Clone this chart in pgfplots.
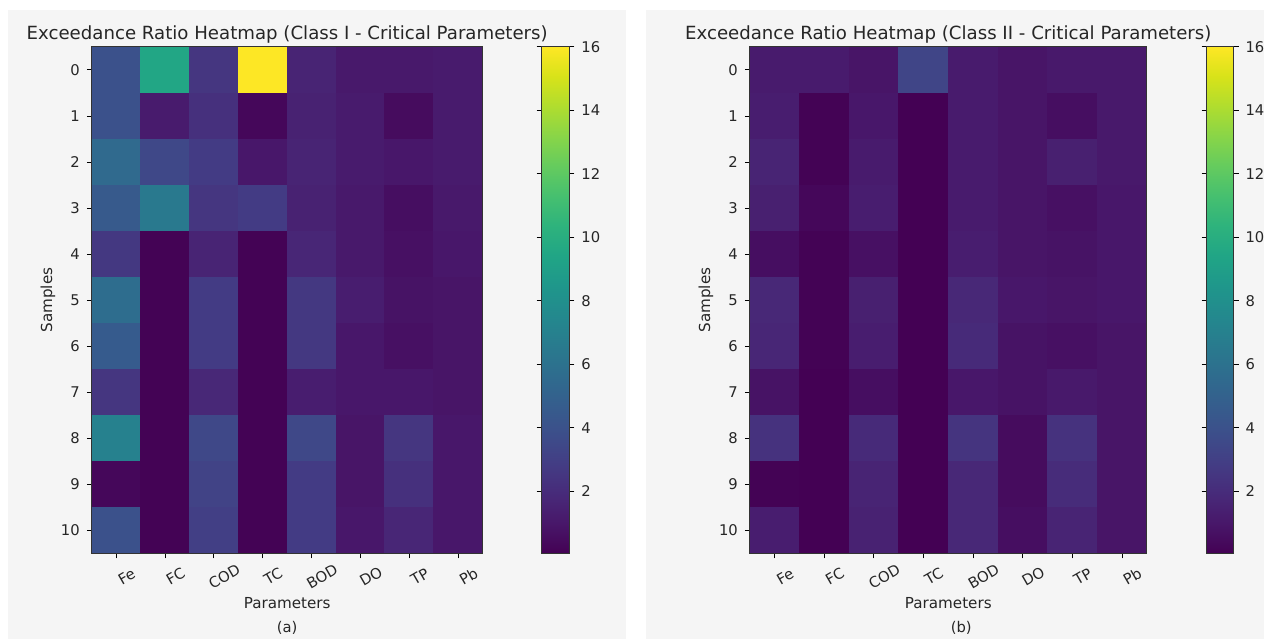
\documentclass[border=0pt]{standalone}
\usepackage{pgfplots}
\pgfplotsset{compat=1.18}
\usepackage{pgfplotstable}
\usepackage{fontspec}
\setmainfont{DejaVu Sans}

% exceedance ratios, rows = samples 0..10, cols = Fe FC COD TC BOD DO TP Pb
\pgfplotstableread[row sep=\\]{
x y c \\
0 0 4.0 \\ 1 0 9.5 \\ 2 0 2.5 \\ 3 0 16.0 \\ 4 0 1.6 \\ 5 0 1.1 \\ 6 0 1.1 \\ 7 0 1.2 \\
0 1 4.0 \\ 1 1 1.2 \\ 2 1 2.2 \\ 3 1 0.3 \\ 4 1 1.5 \\ 5 1 1.2 \\ 6 1 0.5 \\ 7 1 1.2 \\
0 2 5.5 \\ 1 2 3.5 \\ 2 2 2.8 \\ 3 2 1.0 \\ 4 2 1.6 \\ 5 2 1.2 \\ 6 2 1.0 \\ 7 2 1.2 \\
0 3 4.5 \\ 1 3 6.5 \\ 2 3 2.5 \\ 3 3 2.8 \\ 4 3 1.5 \\ 5 3 1.1 \\ 6 3 0.6 \\ 7 3 1.1 \\
0 4 2.6 \\ 1 4 0.1 \\ 2 4 1.6 \\ 3 4 0.1 \\ 4 4 1.7 \\ 5 4 1.1 \\ 6 4 0.7 \\ 7 4 1.0 \\
0 5 5.7 \\ 1 5 0.1 \\ 2 5 2.8 \\ 3 5 0.1 \\ 4 5 2.6 \\ 5 5 1.3 \\ 6 5 0.8 \\ 7 5 0.9 \\
0 6 4.6 \\ 1 6 0.1 \\ 2 6 2.8 \\ 3 6 0.1 \\ 4 6 2.6 \\ 5 6 1.0 \\ 6 6 0.7 \\ 7 6 0.9 \\
0 7 2.5 \\ 1 7 0.1 \\ 2 7 1.8 \\ 3 7 0.1 \\ 4 7 1.3 \\ 5 7 1.0 \\ 6 7 1.0 \\ 7 7 0.9 \\
0 8 7.0 \\ 1 8 0.1 \\ 2 8 3.5 \\ 3 8 0.1 \\ 4 8 3.5 \\ 5 8 0.9 \\ 6 8 2.5 \\ 7 8 1.0 \\
0 9 0.3 \\ 1 9 0.1 \\ 2 9 3.2 \\ 3 9 0.1 \\ 4 9 2.8 \\ 5 9 0.9 \\ 6 9 2.2 \\ 7 9 1.0 \\
0 10 4.0 \\ 1 10 0.1 \\ 2 10 3.0 \\ 3 10 0.1 \\ 4 10 2.8 \\ 5 10 1.0 \\ 6 10 1.7 \\ 7 10 1.0 \\
}\classone

\pgfplotstableread[row sep=\\]{
x y c \\
0 0 1.2 \\ 1 0 1.2 \\ 2 0 0.9 \\ 3 0 3.3 \\ 4 0 1.2 \\ 5 0 0.9 \\ 6 0 1.1 \\ 7 0 1.1 \\
0 1 1.3 \\ 1 1 0.1 \\ 2 1 1.0 \\ 3 1 0.05 \\ 4 1 1.2 \\ 5 1 0.9 \\ 6 1 0.6 \\ 7 1 1.1 \\
0 2 1.6 \\ 1 2 0.1 \\ 2 2 1.2 \\ 3 2 0.05 \\ 4 2 1.2 \\ 5 2 0.9 \\ 6 2 1.4 \\ 7 2 1.1 \\
0 3 1.4 \\ 1 3 0.3 \\ 2 3 1.3 \\ 3 3 0.05 \\ 4 3 1.2 \\ 5 3 0.9 \\ 6 3 0.7 \\ 7 3 1.0 \\
0 4 0.6 \\ 1 4 0.1 \\ 2 4 0.7 \\ 3 4 0.05 \\ 4 4 1.3 \\ 5 4 0.9 \\ 6 4 0.8 \\ 7 4 1.0 \\
0 5 1.8 \\ 1 5 0.1 \\ 2 5 1.4 \\ 3 5 0.05 \\ 4 5 1.8 \\ 5 5 1.0 \\ 6 5 0.9 \\ 7 5 1.0 \\
0 6 1.7 \\ 1 6 0.1 \\ 2 6 1.3 \\ 3 6 0.05 \\ 4 6 1.9 \\ 5 6 0.8 \\ 6 6 0.7 \\ 7 6 0.9 \\
0 7 0.8 \\ 1 7 0.05 \\ 2 7 0.6 \\ 3 7 0.05 \\ 4 7 1.0 \\ 5 7 0.8 \\ 6 7 1.1 \\ 7 7 0.9 \\
0 8 2.3 \\ 1 8 0.05 \\ 2 8 1.9 \\ 3 8 0.05 \\ 4 8 2.4 \\ 5 8 0.5 \\ 6 8 2.3 \\ 7 8 0.9 \\
0 9 0.1 \\ 1 9 0.05 \\ 2 9 1.6 \\ 3 9 0.05 \\ 4 9 1.8 \\ 5 9 0.5 \\ 6 9 2.0 \\ 7 9 0.9 \\
0 10 1.3 \\ 1 10 0.05 \\ 2 10 1.5 \\ 3 10 0.05 \\ 4 10 1.8 \\ 5 10 0.6 \\ 6 10 1.6 \\ 7 10 0.9 \\
}\classtwo

\definecolor{panelbg}{HTML}{F5F5F5}

\pgfplotsset{
  heat/.style={
    scale only axis,
    height=254pt,
    anchor=south west,
    colormap name=viridis,
    point meta min=0.04, point meta max=16,
    xmin=-0.5, xmax=7.5, ymin=-0.5, ymax=10.5,
    y dir=reverse,
    enlargelimits=false,
    axis on top,
    clip=false,
    xtick={0,...,7},
    xticklabels={Fe,FC,COD,TC,BOD,DO,TP,Pb},
    ytick={0,...,10},
    tick pos=left,
    tick align=outside,
    major tick length=2.5pt,
    tick style={black, line width=0.4pt},
    axis line style={black!80, line width=0.5pt},
    /pgf/number format/assume math mode=true,
    tick label style={font=\fontsize{7.4}{8}\selectfont, text=black!85},
    xticklabel style={rotate=30, anchor=center, inner sep=0pt, yshift=-10.5pt},
    label style={font=\fontsize{7.6}{9}\selectfont, text=black!85},
    xlabel={Parameters},
    ylabel={Samples},
    xlabel style={at={(axis description cs:0.5,0)}, anchor=center, yshift=-25pt},
    ylabel style={at={(axis description cs:0,0.5)}, anchor=center, rotate=0, yshift=22pt},
    every axis title shift=0pt,
    title style={font=\fontsize{9.1}{10}\selectfont, text=black!85,
                 at={(axis description cs:0.5,1)}, anchor=center, yshift=6pt},
    colorbar,
    colorbar style={
      at={(parent axis.north east)}, anchor=north west,
      width=14pt,
      ytick={2,4,...,16},
      tick align=outside,
      major tick length=2.5pt,
      tick style={black, line width=0.4pt},
      axis line style={black!80, line width=0.5pt},
      /pgf/number format/assume math mode=true,
      yticklabel style={font=\fontsize{7.4}{8}\selectfont, text=black!85},
    },
  },
}

\begin{document}
\begin{tikzpicture}
  \fill[white] (0,0) rectangle (635.5pt,320.5pt);
  \fill[panelbg] (4pt,0) rectangle (314pt,315.5pt);
  \fill[panelbg] (324pt,0) rectangle (634pt,315.5pt);

  \begin{axis}[heat,
      at={(46pt,43pt)}, width=196pt,
      colorbar style={xshift=21pt},
      title={Exceedance Ratio Heatmap (Class I - Critical Parameters)}]
    \addplot[matrix plot*, mesh/cols=8, point meta=explicit]
      table[x=x, y=y, meta=c] {\classone};
    \node[font=\fontsize{7.4}{8}\selectfont, text=black!85]
      at (axis description cs:0.5,0) [yshift=-37.5pt] {(a)};
  \end{axis}

  \begin{axis}[heat,
      at={(376pt,43pt)}, width=199pt,
      colorbar style={xshift=21.5pt, width=13.5pt},
      title={Exceedance Ratio Heatmap (Class II - Critical Parameters)}]
    \addplot[matrix plot*, mesh/cols=8, point meta=explicit]
      table[x=x, y=y, meta=c] {\classtwo};
    \node[font=\fontsize{7.4}{8}\selectfont, text=black!85]
      at (axis description cs:0.5,0) [xshift=6.5pt, yshift=-37.5pt] {(b)};
  \end{axis}
\end{tikzpicture}
\end{document}
